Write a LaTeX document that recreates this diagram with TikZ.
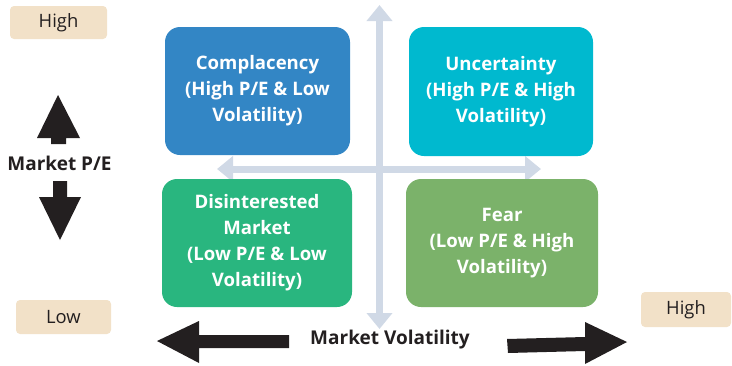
\documentclass[tikz,border=0pt]{standalone}
\usepackage{fontspec}
\setmainfont{Open Sans}
\usetikzlibrary{arrows.meta}
\definecolor{cblue}{HTML}{3386C5}
\definecolor{ccyan}{HTML}{00B9CF}
\definecolor{cgreen}{HTML}{29B67F}
\definecolor{cfear}{HTML}{7BB26A}
\definecolor{cbeige}{HTML}{F2E1C8}
\definecolor{cgrey}{HTML}{D0D9E6}
\definecolor{cdark}{HTML}{231F20}
\tikzset{
  quad/.style={fill=#1, rounded corners=15pt, text=white, font=\fontsize{18.6}{26}\selectfont\bfseries, align=center, inner sep=0pt},
  tag/.style={fill=cbeige, rounded corners=4pt, text=cdark, font=\fontsize{18.4}{20}\selectfont, inner sep=0pt},
  axislabel/.style={text=cdark, font=\fontsize{19}{20}\selectfont\bfseries, inner sep=0pt},
  crossarrow/.style={draw=cgrey, line width=7pt, {Triangle[width=25pt,length=16pt]}-{Triangle[width=25pt,length=16pt]}},
}
\begin{document}
\begin{tikzpicture}[x=1pt,y=-1pt]
\useasboundingbox (0,0) rectangle (732,365);
% grey cross
\coordinate (vt) at (379.5,5);
\coordinate (vb) at (379.5,329);
\coordinate (hl) at (217,169);
\coordinate (hr) at (541,169);
\draw[crossarrow] (vt) -- (vb);
\draw[crossarrow] (hl) -- (hr);
% quadrants
\node[quad=cblue, minimum width=185pt, minimum height=128pt] (comp) at (257.5,91) {Complacency\\(High P/E \& Low\\Volatility)};
\node[quad=ccyan, minimum width=184pt, minimum height=129pt] (unc) at (501,91.5) {Uncertainty\\(High P/E \& High\\Volatility)};
\node[quad=cgreen, minimum width=190pt, minimum height=128pt] (dis) at (257,243) {Disinterested\\Market\\(Low P/E \& Low\\Volatility)};
\node[quad=cfear, minimum width=192pt, minimum height=128pt] (fear) at (502,243) {Fear\\(Low P/E \& High\\Volatility)};
% tags
\node[tag, minimum width=97pt, minimum height=33pt] (hiy) at (58.5,22.5) {High};
\node[tag, minimum width=95pt, minimum height=34pt] (lo) at (63.5,317) {Low};
\node[tag, minimum width=90pt, minimum height=35pt] (hix) at (686,309.5) {High};
% axis labels
\node[axislabel] (mpe) at (59.5,163) {Market P/E};
\node[axislabel] (mvol) at (390,340) {Market Volatility};
% black arrows
\fill[cdark] (58,95) -- (80,138) -- (66,138) -- (66,144) -- (51,144) -- (51,138) -- (37,138) -- cycle;
\fill[cdark] (53,181) -- (67,181) -- (67,197) -- (81,197) -- (60,240) -- (39,197) -- (53,197) -- cycle;
\fill[cdark] (157,341) -- (199,321) -- (199,335) -- (289,335) -- (289,348) -- (199,348) -- (199,363) -- cycle;
\fill[cdark] (507,339) -- (585,337) -- (585,322) -- (627,342) -- (585,364) -- (585,351) -- (508,353) -- cycle;
\end{tikzpicture}
\end{document}
